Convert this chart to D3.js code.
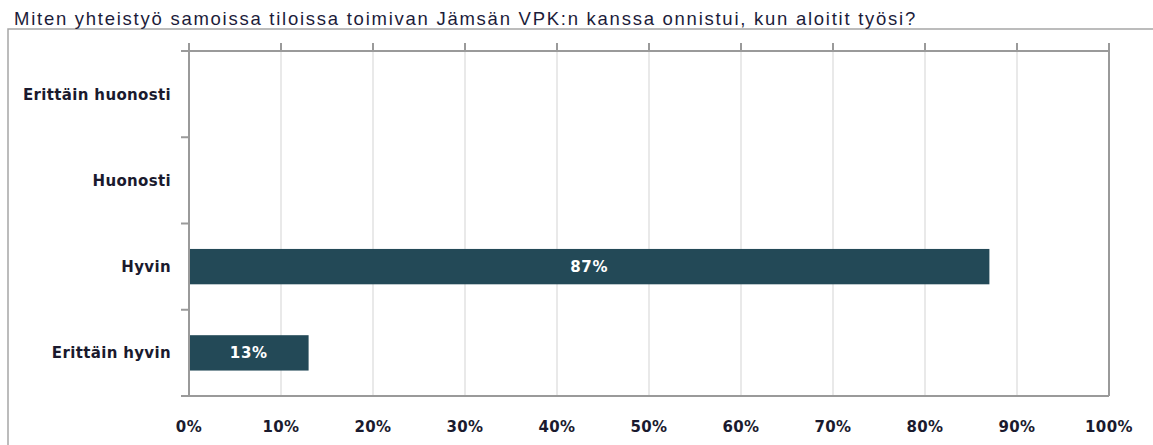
<!DOCTYPE html>
<html><head><meta charset="utf-8">
<script src="https://cdn.jsdelivr.net/npm/d3@7"></script>
<style>body{margin:0;background:#fff}svg{display:block}</style>
</head><body>
<svg id="c" width="1153" height="445"></svg>
<script>
const title = "Miten yhteistyö samoissa tiloissa toimivan Jämsän VPK:n kanssa onnistui, kun aloitit työsi?";
const categories = ["Erittäin huonosti", "Huonosti", "Hyvin", "Erittäin hyvin"];
const values = [0, 0, 87, 13];
const ticks = [0,10,20,30,40,50,60,70,80,90,100];

const svg = d3.select("#c");
const L = 189, R = 1109, T = 51, B = 396;
const x = d3.scaleLinear().domain([0,100]).range([L,R]);
const y = d3.scaleBand().domain(categories).range([T,B]).paddingInner(0.59).paddingOuter(0.295);
const yb = d3.scaleBand().domain(categories).range([T,B]);
const BOLD = "DejaVu Sans, Verdana, sans-serif";

// fit letter-spacing so that a sample string reaches a target width
function fitSpacing(sel, sampleText, target) {
  const n = sampleText.length;
  let node = null;
  sel.each(function(){ if (this.textContent === sampleText) node = this; });
  if (!node) return;
  const w = node.getComputedTextLength();
  const cur = parseFloat(node.getAttribute("letter-spacing") || 0);
  sel.attr("letter-spacing", cur + (target - w) / n);
}

// frame
svg.append("path").attr("d","M8,445V29H1153").attr("fill","none").attr("stroke","#a6a6a6").attr("stroke-width",1.5);

const tt = svg.append("text").attr("x",14).attr("y",25).attr("font-family","Liberation Sans, Arial, sans-serif")
  .attr("font-size",18.5).attr("fill","#1c1c3a").text(title);
fitSpacing(tt, title, 903);

// gridlines
svg.append("g").selectAll("line").data(ticks.filter(t=>t>0&&t<100)).join("line")
  .attr("x1",d=>x(d)).attr("x2",d=>x(d)).attr("y1",T).attr("y2",B)
  .attr("stroke","#e2e2e2").attr("stroke-width",1.5);

// bars
svg.append("g").selectAll("rect").data(categories).join("rect")
  .attr("x",L).attr("y",d=>y(d)).attr("height",y.bandwidth())
  .attr("width",(d,i)=>x(values[i])-L).attr("fill","#234957");

// bar labels
const bl = svg.append("g").selectAll("text").data(categories.filter((d,i)=>values[i]>0)).join("text")
  .attr("x",d=>(L+x(values[categories.indexOf(d)]))/2).attr("y",d=>y(d)+y.bandwidth()/2)
  .attr("dy","0.36em").attr("text-anchor","middle").attr("fill","#fff")
  .attr("font-family",BOLD).attr("font-weight","bold")
  .attr("font-size",15).text(d=>values[categories.indexOf(d)]+"%");
fitSpacing(bl, "87%", 38);

// axis lines
const ax = svg.append("g").attr("stroke","#9a9a9a").attr("stroke-width",2).attr("fill","none");
ax.append("line").attr("x1",L-8).attr("x2",R).attr("y1",T).attr("y2",T);
ax.append("line").attr("x1",L-8).attr("x2",R).attr("y1",B).attr("y2",B);
ax.append("line").attr("x1",L).attr("x2",L).attr("y1",T-8).attr("y2",B);
ax.append("line").attr("x1",R).attr("x2",R).attr("y1",T-8).attr("y2",B);
ax.selectAll(".xt").data(ticks).join("line").attr("class","xt")
  .attr("x1",d=>x(d)).attr("x2",d=>x(d)).attr("y1",T-8).attr("y2",T);
ax.selectAll(".yt").data(categories.slice(1)).join("line").attr("class","yt")
  .attr("x1",L-8).attr("x2",L).attr("y1",d=>yb(d)).attr("y2",d=>yb(d));

// tick labels
const tl = svg.append("g").selectAll("text").data(ticks).join("text")
  .attr("x",d=>x(d)).attr("y",432).attr("text-anchor","middle")
  .attr("font-family",BOLD).attr("font-weight","bold")
  .attr("font-size",15).attr("fill","#1a1a2e").text(d=>d+"%");
fitSpacing(tl, "100%", 48);

// category labels
const cl = svg.append("g").selectAll("text").data(categories).join("text")
  .attr("x",171).attr("y",d=>yb(d)+yb.bandwidth()/2).attr("dy","0.36em").attr("text-anchor","end")
  .attr("font-family",BOLD).attr("font-weight","bold")
  .attr("font-size",15).attr("fill","#1a1a2e").text(d=>d);
fitSpacing(cl, "Erittäin huonosti", 148);
</script>
</body></html>
